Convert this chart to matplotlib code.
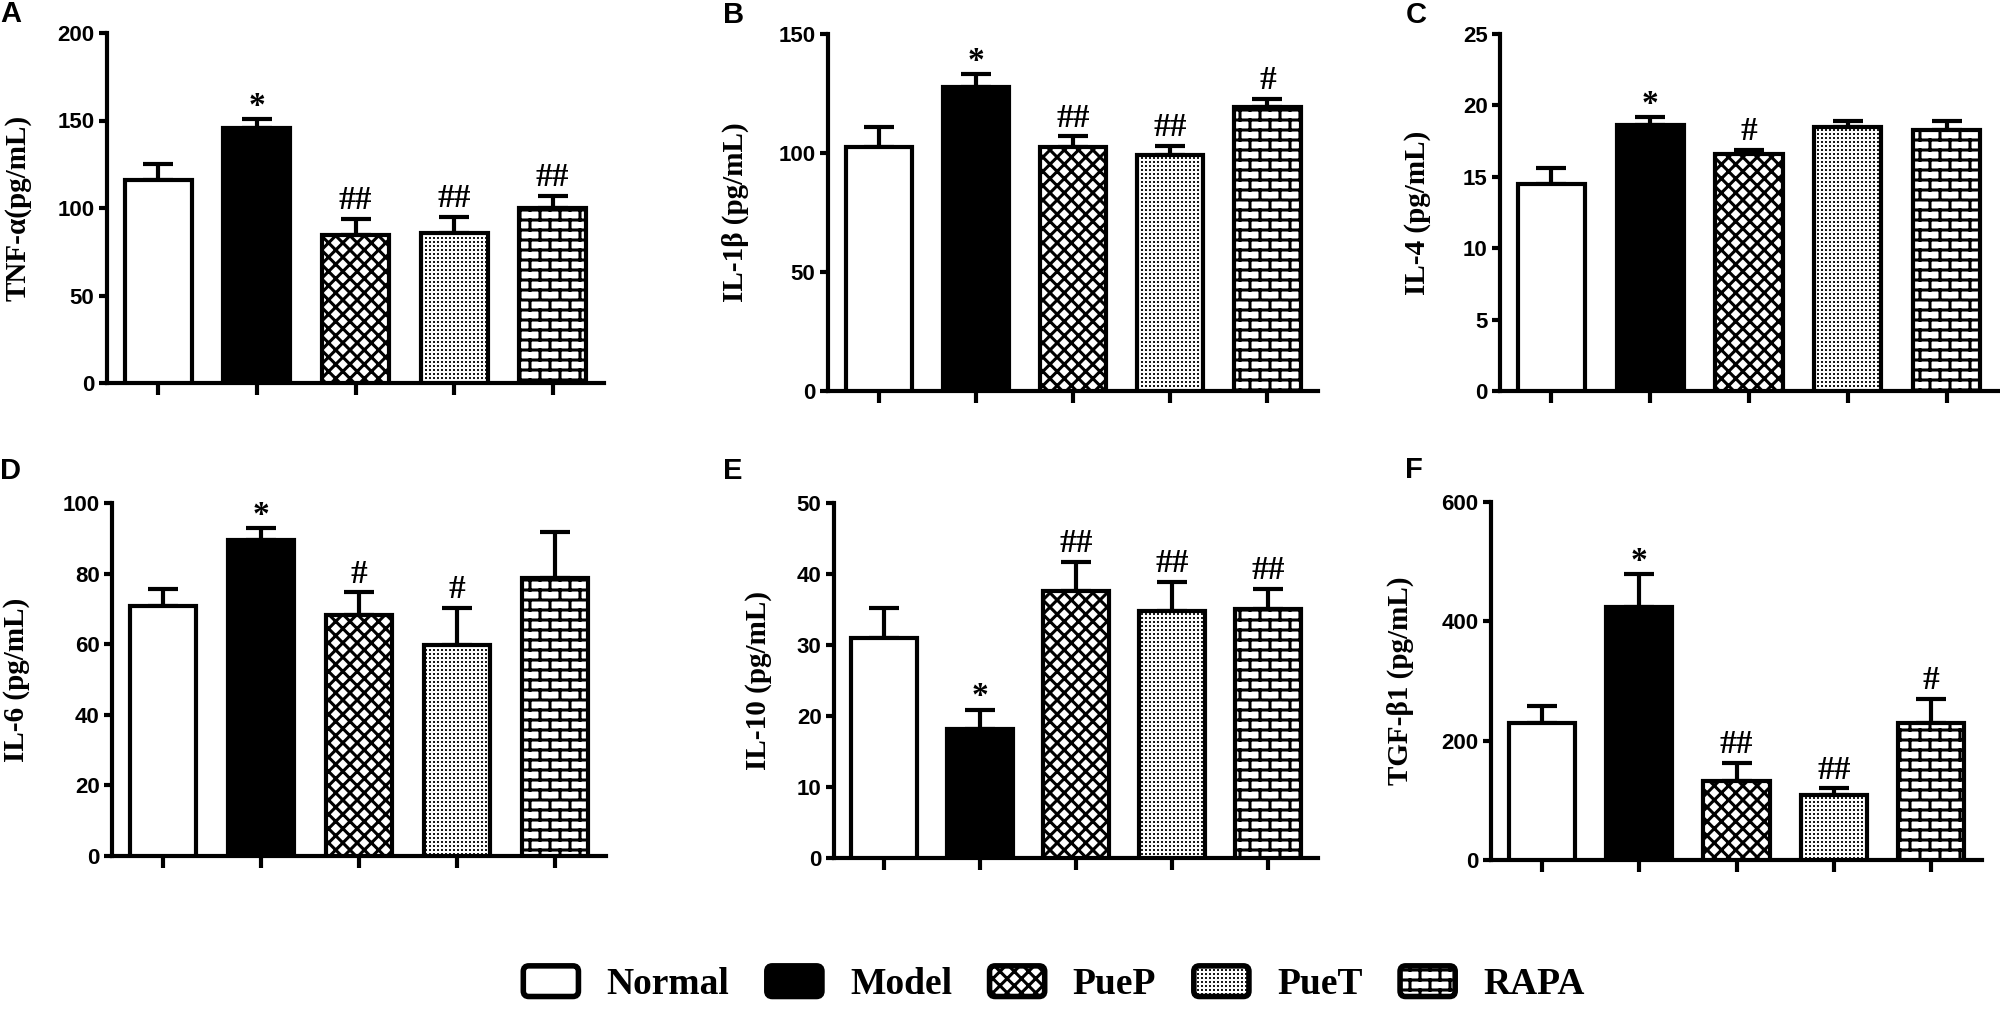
import numpy as np
import matplotlib
matplotlib.use("Agg")
import matplotlib.pyplot as plt
import matplotlib.hatch as mhatch
from matplotlib.path import Path
from matplotlib.patches import Patch, FancyBboxPatch
from matplotlib.legend_handler import HandlerPatch

# ---------------- data ----------------
groups = ["Normal", "Model", "PueP", "PueT", "RAPA"]
panel_letters = ["A", "B", "C", "D", "E", "F"]
ylabels = ["TNF-\u03b1(pg/mL)", "IL-1\u03b2 (pg/mL)", "IL-4 (pg/mL)",
           "IL-6 (pg/mL)", "IL-10 (pg/mL)", "TGF-\u03b21 (pg/mL)"]

tnf_mean = [116, 146, 84.5, 86, 100]
tnf_sem = [9, 5, 9.5, 9, 7]
il1b_mean = [102.5, 127.7, 102.5, 99, 119.5]
il1b_sem = [8.5, 5.5, 4.5, 4, 3.2]
il4_mean = [14.5, 18.6, 16.6, 18.5, 18.3]
il4_sem = [1.1, 0.6, 0.3, 0.4, 0.6]
il6_mean = [70.7, 89.5, 68.2, 59.7, 78.7]
il6_sem = [4.9, 3.4, 6.5, 10.5, 13.1]
il10_mean = [31, 18.2, 37.6, 34.8, 35.1]
il10_sem = [4.2, 2.7, 4.1, 4.1, 2.8]
tgf_mean = [230, 424, 133, 109, 230]
tgf_sem = [28, 55, 30, 11, 40]

tnf_sig = ["", "*", "##", "##", "##"]
il1b_sig = ["", "*", "##", "##", "#"]
il4_sig = ["", "*", "#", "", ""]
il6_sig = ["", "*", "#", "#", ""]
il10_sig = ["", "*", "##", "##", "##"]
tgf_sig = ["", "*", "##", "##", "#"]

tnf_ticks = [0, 50, 100, 150, 200]
il1b_ticks = [0, 50, 100, 150]
il4_ticks = [0, 5, 10, 15, 20, 25]
il6_ticks = [0, 20, 40, 60, 80, 100]
il10_ticks = [0, 10, 20, 30, 40, 50]
tgf_ticks = [0, 200, 400, 600]

# ---------------- custom hatch patterns ----------------
class BrickHatch(mhatch.HatchPatternBase):
    def __init__(self, hatch, density):
        n = hatch.count('O')
        self.rows = 10 * n
        self.cols = 5 * n
        self.num_vertices = (2 * (self.rows + 1) + 2 * self.rows * (self.cols + 1)) if n else 0

    def set_vertices_and_codes(self, vertices, codes):
        rows, cols = self.rows, self.cols
        h = 1.0 / rows
        w = 1.0 / cols
        k = 0
        for r in range(rows + 1):
            vertices[k] = (0.0, r * h)
            vertices[k + 1] = (1.0, r * h)
            k += 2
        for r in range(rows):
            off = 0.5 * w if r % 2 else 0.0
            for c in range(cols + 1):
                xx = c * w + off
                vertices[k] = (xx, r * h)
                vertices[k + 1] = (xx, (r + 1) * h)
                k += 2
        codes[0::2] = Path.MOVETO
        codes[1::2] = Path.LINETO


class DiamondHatch(mhatch.HatchPatternBase):
    def __init__(self, hatch, density):
        self.num_lines = 14 * hatch.count('*')
        self.num_vertices = 4 * (self.num_lines + 1) if self.num_lines else 0

    def set_vertices_and_codes(self, vertices, codes):
        n = self.num_lines + 1
        steps = np.linspace(-0.5, 0.5, n)
        v1 = vertices[:2 * n]
        v2 = vertices[2 * n:]
        v1[0::2, 0] = 0.0 + steps
        v1[0::2, 1] = 0.0 - steps
        v1[1::2, 0] = 1.0 + steps
        v1[1::2, 1] = 1.0 - steps
        v2[0::2, 0] = 0.0 + steps
        v2[0::2, 1] = 1.0 + steps
        v2[1::2, 0] = 1.0 + steps
        v2[1::2, 1] = 0.0 + steps
        codes[0::2] = Path.MOVETO
        codes[1::2] = Path.LINETO


class DotHatch(mhatch.HatchPatternBase):
    def __init__(self, hatch, density):
        n = hatch.count('o')
        self.m = 25 * n
        self.num_vertices = 5 * self.m * self.m if n else 0

    def set_vertices_and_codes(self, vertices, codes):
        m = self.m
        s = 1.0 / m
        d = 0.006
        k = 0
        for i in range(m):
            for j in range(m):
                cx = (i + 0.5) * s
                cy = (j + 0.5) * s
                vertices[k:k + 5] = [(cx - d, cy - d), (cx + d, cy - d), (cx + d, cy + d),
                                     (cx - d, cy + d), (cx - d, cy - d)]
                codes[k] = Path.MOVETO
                codes[k + 1:k + 4] = Path.LINETO
                codes[k + 4] = Path.CLOSEPOLY
                k += 5


mhatch._hatch_types = [t for t in mhatch._hatch_types
                       if t not in (mhatch.LargeCircles, mhatch.Stars, mhatch.SmallCircles)]
mhatch._hatch_types += [BrickHatch, DiamondHatch, DotHatch]

plt.rcParams['hatch.linewidth'] = 2.2
has_hlw = hasattr(Patch, 'set_hatch_linewidth')

faces = ["white", "black", "white", "white" if has_hlw else "#d9d9d9", "white"]
hatches = [None, None, "*", "o" if has_hlw else None, "O"]


def hatch_lw(h):
    return 0.5 if h == "o" else 2.2


class RoundHandler(HandlerPatch):
    def create_artists(self, legend, orig_handle, xdescent, ydescent,
                       width, height, fontsize, trans):
        p = FancyBboxPatch((-xdescent, -ydescent), width, height,
                           boxstyle="round,pad=0,rounding_size=4")
        self.update_prop(p, orig_handle, legend)
        h = orig_handle.get_hatch()
        if has_hlw and h:
            p.set_hatch_linewidth(hatch_lw(h))
        p.set_transform(trans)
        return [p]


# ---------------- layout (pixels) ----------------
W, H = 2000, 1014
fig = plt.figure(figsize=(W / 100, H / 100), dpi=100)

boxes = [  # left, right, top(ymax), zero
    (107, 604, 33, 383),
    (828, 1318, 34, 391),
    (1500, 1998, 34, 391),
    (112, 606, 503, 856),
    (834, 1318, 503, 858),
    (1491, 1982, 502, 860),
]
label_offsets = [-75, -79, -69, -82, -62, -77]
letter_pos = [(11, 14), (734, 15), (1416, 15), (11, 471), (733, 471), (1414, 470)]

means = [tnf_mean, il1b_mean, il4_mean, il6_mean, il10_mean, tgf_mean]
sems = [tnf_sem, il1b_sem, il4_sem, il6_sem, il10_sem, tgf_sem]
sigs = [tnf_sig, il1b_sig, il4_sig, il6_sig, il10_sig, tgf_sig]
ticks = [tnf_ticks, il1b_ticks, il4_ticks, il6_ticks, il10_ticks, tgf_ticks]

serif_bold = dict(family="Liberation Serif", weight="bold")
x = np.arange(len(groups))

for i in range(6):
    L, R, T, Z = boxes[i]
    ax = fig.add_axes([L / W, 1 - Z / H, (R - L) / W, (Z - T) / H])
    bars = ax.bar(x, means[i], width=0.68, color=faces, edgecolor="black",
                  linewidth=3, zorder=3)
    for p, h in zip(bars, hatches):
        if h:
            p.set_hatch(h)
            if has_hlw:
                p.set_hatch_linewidth(hatch_lw(h))
    ax.errorbar(x, means[i], yerr=[np.zeros(len(x)), sems[i]], fmt="none",
                ecolor="black", elinewidth=3, capsize=11, capthick=3, zorder=2)
    for xi, m, s, lab in zip(x, means[i], sems[i], sigs[i]):
        if lab:
            off = 3 if lab == "*" else 7
            ax.annotate(lab, (xi, m + s), xytext=(0, off), textcoords="offset points",
                        ha="center", va="baseline", fontsize=24, **serif_bold)
    ax.set_xlim(-0.52, 4.52)
    ax.set_ylim(ticks[i][0], ticks[i][-1])
    ax.set_yticks(ticks[i])
    ax.set_xticks(x)
    ax.set_xticklabels([])
    for sp in ("top", "right"):
        ax.spines[sp].set_visible(False)
    for sp in ("left", "bottom"):
        ax.spines[sp].set_linewidth(3)
    ax.tick_params(axis="y", direction="out", length=6, width=3, pad=3,
                   labelsize=16)
    ax.tick_params(axis="x", direction="out", length=8.6, width=3)
    for t in ax.get_yticklabels():
        t.set_fontfamily("Liberation Sans")
        t.set_fontweight("bold")
    ax.set_ylabel(ylabels[i], fontsize=21, **serif_bold)
    ax.yaxis.set_label_coords(label_offsets[i] / (R - L), 0.5)
    lx, ly = letter_pos[i]
    fig.text(lx / W, 1 - ly / H, panel_letters[i], ha="center", va="center",
             fontsize=21, family="Liberation Sans", weight="bold")

handles = []
for fc, h in zip(faces, hatches):
    p = Patch(facecolor=fc, edgecolor="black", linewidth=4, hatch=h)
    if has_hlw and h:
        p.set_hatch_linewidth(hatch_lw(h))
    handles.append(p)

leg = fig.legend(handles, groups, loc="center", bbox_to_anchor=(1054 / W, 1 - 984 / H),
                 ncol=5, frameon=False,
                 prop=dict(family="Liberation Serif", weight="bold", size=27),
                 handlelength=1.47, handleheight=0.88, handletextpad=0.75,
                 columnspacing=1.0, borderpad=0,
                 handler_map={Patch: RoundHandler()})
if has_hlw:
    for lh, h in zip(leg.legend_handles, hatches):
        if h:
            lh.set_hatch_linewidth(hatch_lw(h))

fig.savefig("out.png", dpi=100, facecolor="white")
